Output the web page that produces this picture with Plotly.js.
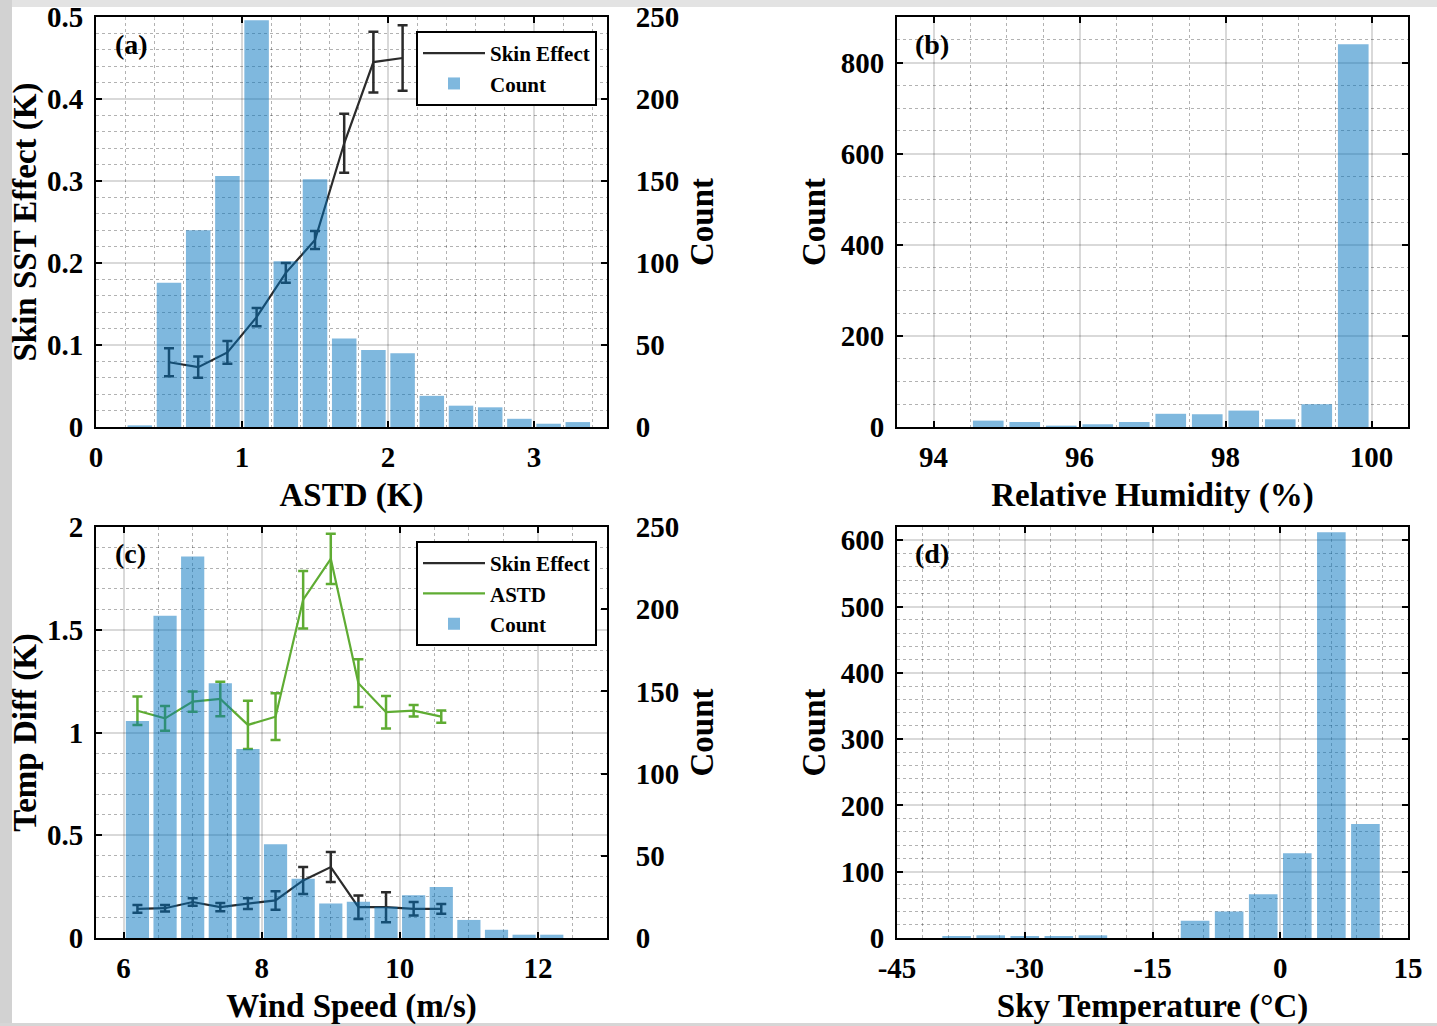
<!DOCTYPE html>
<html>
<head>
<meta charset="utf-8">
<script src="https://cdn.plot.ly/plotly-3.0.1.min.js"></script>
<style>
html,body{margin:0;padding:0;background:#ffffff;}
#chart{width:1437px;height:1026px;}
</style>
</head>
<body>
<div id="chart"></div>
<script>
// ---------- Data ----------
// (a) ASTD histogram and skin effect
const astdCenters = [0.3,0.5,0.7,0.9,1.1,1.3,1.5,1.7,1.9,2.1,2.3,2.5,2.7,2.9,3.1,3.3];
const astdCounts  = [1,88,120,153,248,101,151,54,47,45,19,13,12,5,2,3];
const skinXa      = [0.5,0.7,0.9,1.1,1.3,1.5,1.7,1.9,2.1];
const skinA       = [0.079,0.073,0.091,0.134,0.188,0.228,0.346,0.445,0.450];
const skinErrA    = [0.017,0.013,0.014,0.011,0.012,0.011,0.036,0.037,0.040];

// (b) Relative humidity histogram
const rhCenters = [94.75,95.25,95.75,96.25,96.75,97.25,97.75,98.25,98.75,99.25,99.75];
const rhCounts  = [14,11,3,6,11,29,28,36,17,50,840];

// (c) Wind speed histogram, skin effect and ASTD
const windCenters = [6.2,6.6,7.0,7.4,7.8,8.2,8.6,9.0,9.4,9.8,10.2,10.6,11.0,11.4,11.8,12.2];
const windCounts  = [132,196,232,155,115,57,36,21,22,19,26,31,11,5,2,2];
const skinXc      = [6.2,6.6,7.0,7.4,7.8,8.2,8.6,9.0,9.4,9.8,10.2,10.6];
const skinC       = [0.142,0.145,0.175,0.150,0.167,0.183,0.280,0.345,0.150,0.150,0.142,0.142];
const skinErrC    = [0.019,0.016,0.018,0.020,0.026,0.045,0.066,0.073,0.057,0.073,0.033,0.024];
const astdC       = [1.106,1.069,1.150,1.163,1.037,1.077,1.646,1.845,1.240,1.099,1.106,1.077];
const astdErrC    = [0.069,0.060,0.049,0.084,0.117,0.114,0.140,0.122,0.116,0.079,0.028,0.030];

// (d) Sky temperature histogram
const skyCenters = [-38,-34,-30,-26,-22,-18,-14,-10,-6,-2,2,6,10];
const skyCounts  = [3,4,3,3,4,0,0,26,40,66,128,612,172];
const skyTickVals = [-45,-30,-15,0,15];
const skyTickText = ['-45','-30','-15','0','15'];

// Labels
const panelLabels = ['(a)','(b)','(c)','(d)'];

// ---------- Styles ----------
const FONT = 'Liberation Serif, Times New Roman, serif';
const barColor = 'rgba(0,114,189,0.5)';
const skinColor = '#2b2b2b';
const astdColor = '#5fac33';
const majorGrid = 'rgba(0,0,0,0.15)';
const minorGrid = 'rgba(0,0,0,0.30)';
const tickFont = {family: FONT, size: 29, color: '#000', weight: 'bold'};
const titleFont = {family: FONT, size: 33, color: '#000', weight: 'bold'};

function xAx(domain, anchor, range, dtick, minor, title) {
  return {
    domain: domain, anchor: anchor, range: range, dtick: dtick, tick0: 0,
    showline: true, linecolor: '#000', linewidth: 2, mirror: 'ticks',
    ticks: 'inside', ticklen: 6, tickwidth: 2, tickcolor: '#000',
    showgrid: true, gridcolor: majorGrid, gridwidth: 2,
    minor: {dtick: minor, showgrid: true, gridcolor: minorGrid, griddash: 'dot', gridwidth: 1},
    zeroline: false, tickfont: tickFont, ticklabelstandoff: 3,
    title: {text: title, font: titleFont, standoff: 11}
  };
}
function yAx(domain, anchor, range, dtick, minor, title, side, mirror, standoff, lblstand) {
  const a = {
    domain: domain, anchor: anchor, range: range, dtick: dtick, tick0: 0, side: side,
    showline: true, linecolor: '#000', linewidth: 2, mirror: mirror,
    ticks: 'inside', ticklen: 6, tickwidth: 2, tickcolor: '#000',
    showgrid: minor !== null, gridcolor: majorGrid, gridwidth: 2,
    zeroline: false, tickfont: tickFont, ticklabelstandoff: lblstand,
    title: {text: title, font: titleFont, standoff: standoff}
  };
  if (minor !== null) a.minor = {dtick: minor, showgrid: true, gridcolor: minorGrid, griddash: 'dot', gridwidth: 1};
  return a;
}

const XL = [96/1437, 607/1437];
const XR = [897/1437, 1408/1437];
const YT = [1 - 427/1026, 1 - 17/1026];
const YB = [1 - 938/1026, 1 - 527/1026];

const errStyle = (arr, color) => ({type: 'data', array: arr, visible: true, color: color, thickness: 2.5, width: 5});

const traces = [
  // (a)
  {type: 'scatter', mode: 'lines', x: skinXa, y: skinA, error_y: errStyle(skinErrA, skinColor),
   line: {color: skinColor, width: 2.2}, name: 'Skin Effect', xaxis: 'x', yaxis: 'y', legend: 'legend'},
  {type: 'bar', x: astdCenters, y: astdCounts, marker: {color: barColor, line: {width: 0}},
   name: 'Count', xaxis: 'x', yaxis: 'y2', legend: 'legend'},
  // (b)
  {type: 'bar', x: rhCenters, y: rhCounts, marker: {color: barColor, line: {width: 0}},
   name: 'Count', xaxis: 'x2', yaxis: 'y3', showlegend: false},
  // (c)
  {type: 'scatter', mode: 'lines', x: skinXc, y: skinC, error_y: errStyle(skinErrC, skinColor),
   line: {color: skinColor, width: 2.2}, name: 'Skin Effect', xaxis: 'x3', yaxis: 'y4', legend: 'legend2'},
  {type: 'scatter', mode: 'lines', x: skinXc, y: astdC, error_y: errStyle(astdErrC, astdColor),
   line: {color: astdColor, width: 2.2}, name: 'ASTD', xaxis: 'x3', yaxis: 'y4', legend: 'legend2'},
  {type: 'bar', x: windCenters, y: windCounts, marker: {color: barColor, line: {width: 0}},
   name: 'Count', xaxis: 'x3', yaxis: 'y5', legend: 'legend2'},
  // (d)
  {type: 'bar', x: skyCenters, y: skyCounts, marker: {color: barColor, line: {width: 0}},
   name: 'Count', xaxis: 'x4', yaxis: 'y6', showlegend: false}
];

const legendBase = {
  xanchor: 'left', yanchor: 'top', bgcolor: '#ffffff', bordercolor: '#000', borderwidth: 2,
  font: {family: FONT, size: 21, color: '#000', weight: 'bold'}, traceorder: 'normal',
  tracegroupgap: 0, itemwidth: 62
};

const panelPos = [[113, 44], [913, 44], [113, 553], [913, 553]];

// (d) x axis: hyphen-minus tick labels; minor grid every 3 units, skipping the major positions
const xd = xAx(XR, 'y6', [-45, 15], 15, 3, 'Sky Temperature (°C)');
xd.tickmode = 'array'; xd.tickvals = skyTickVals; xd.ticktext = skyTickText;
const skyMinor = [];
for (let v = -42; v < 15; v += 3) { if (v % 15 !== 0) skyMinor.push(v); }
xd.minor = {tickmode: 'array', tickvals: skyMinor, showgrid: true, gridcolor: minorGrid, griddash: 'dot', gridwidth: 1};

const layout = {
  width: 1437, height: 1026,
  margin: {l: 0, r: 0, t: 0, b: 0},
  paper_bgcolor: '#ffffff', plot_bgcolor: 'rgba(0,0,0,0)',
  bargap: 0.16,
  showlegend: true,
  legend: Object.assign({x: 416/1437, y: 1 - 31/1026}, legendBase),
  legend2: Object.assign({x: 416/1437, y: 1 - 541/1026}, legendBase),
  xaxis: xAx(XL, 'y', [0, 3.5], 1, 0.2, 'ASTD (K)'),
  yaxis: yAx(YT, 'x', [0, 0.5], 0.1, 0.02, 'Skin SST Effect (K)', 'left', false, 0, 5),
  yaxis2: Object.assign(yAx(YT, 'x', [0, 250], 50, null, 'Count', 'right', false, 12, 21), {overlaying: 'y'}),
  xaxis2: xAx(XR, 'y3', [93.5, 100.5], 2, 0.5, 'Relative Humidity (%)'),
  yaxis3: yAx(YT, 'x2', [0, 900], 200, 50, 'Count', 'left', 'ticks', 5, 5),
  xaxis3: xAx(XL, 'y4', [5.6, 13], 2, 0.5, 'Wind Speed (m/s)'),
  yaxis4: yAx(YB, 'x3', [0, 2], 0.5, 0.1, 'Temp Diff (K)', 'left', false, 0, 5),
  yaxis5: Object.assign(yAx(YB, 'x3', [0, 250], 50, null, 'Count', 'right', false, 12, 21), {overlaying: 'y4'}),
  xaxis4: xd,
  yaxis6: yAx(YB, 'x4', [0, 620], 100, 20, 'Count', 'left', 'ticks', 5, 5),
  annotations: panelLabels.map((t, i) => ({
    text: t, xref: 'paper', yref: 'paper', x: panelPos[i][0]/1437, y: 1 - panelPos[i][1]/1026,
    xanchor: 'left', yanchor: 'middle', showarrow: false,
    font: {family: FONT, size: 28, color: '#000', weight: 'bold'}
  })),
  shapes: [
    {type: 'rect', xref: 'paper', yref: 'paper', x0: 0, x1: 1, y0: 1 - 7/1026, y1: 1, fillcolor: '#e3e3e3', line: {width: 0}, layer: 'below'},
    {type: 'rect', xref: 'paper', yref: 'paper', x0: 0, x1: 12/1437, y0: 0, y1: 1, fillcolor: '#d2d2d2', line: {width: 0}, layer: 'below'},
    {type: 'rect', xref: 'paper', yref: 'paper', x0: 0, x1: 1, y0: 0, y1: 3/1026, fillcolor: '#d6d6d6', line: {width: 0}, layer: 'below'}
  ]
};

Plotly.newPlot('chart', traces, layout, {staticPlot: true, displayModeBar: false});
</script>
</body>
</html>
